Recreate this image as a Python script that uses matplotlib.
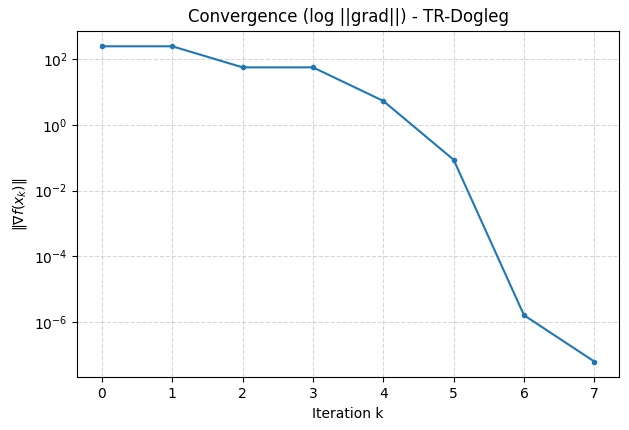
import numpy as np
import matplotlib
matplotlib.use("Agg")
import matplotlib.pyplot as plt

# valores
iteraciones = [0, 1, 2, 3, 4, 5, 6, 7]
norma_grad = [250.0, 250.0, 57.0, 57.0, 5.4, 0.087, 1.6e-6, 6.2e-8]

fig, ax = plt.subplots(figsize=(6.29, 4.30), dpi=100)
fig.subplots_adjust(left=0.123, right=0.984, top=0.929, bottom=0.1226)

ax.semilogy(iteraciones, norma_grad, marker='o', markersize=3, color='#1f77b4')
ax.set_xlabel('Iteration k')
ax.set_ylabel(r'$\|\nabla f(x_k)\|$')
ax.set_title('Convergence (log ||grad||) - TR-Dogleg')
ax.grid(True, linestyle='--', alpha=0.5)

fig.savefig('out.png')
